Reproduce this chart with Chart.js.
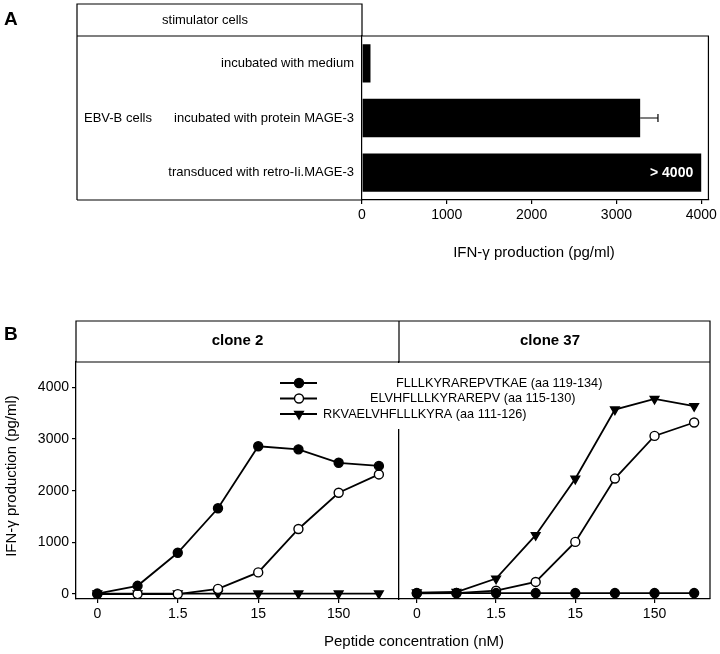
<!DOCTYPE html>
<html>
<head>
<meta charset="utf-8">
<script src="https://cdn.jsdelivr.net/npm/chart.js@4.4.1/dist/chart.umd.min.js"></script>
<style>
  body { margin: 0; background: #fff; }
  #wrap { position: relative; width: 720px; height: 654px; }
  #wrap canvas { position: absolute; left: 0; top: 0; }
</style>
</head>
<body>
<div id="wrap">
  <canvas id="chartA" width="720" height="654"></canvas>
  <canvas id="chartB1" width="720" height="654"></canvas>
  <canvas id="chartB2" width="720" height="654"></canvas>
</div>
<script>
// Panel A - IFN-gamma by stimulator cells
const stimulators = ['incubated with medium', 'incubated with protein MAGE-3', 'transduced with retro-Ii.MAGE-3'];
const ifnA = [100, 3280, 4000];
const ifnAErr = [0, 210, 0];
const ifnANotes = ['', '', '> 4000'];
const ticksA = [0, 1000, 2000, 3000, 4000];

// Panel B - peptide titration, two clones
const concLabels = ['0', '', '1.5', '', '15', '', '150', ''];
const concTicks = [0, 2, 4, 6];
const peptides = ['FLLLKYRAREPVTKAE (aa 119-134)', 'ELVHFLLLKYRAREPV (aa 115-130)', 'RKVAELVHFLLLKYRA (aa 111-126)'];
const clone2FLLL = [10, 160, 800, 1660, 2860, 2800, 2540, 2480];
const clone2ELVH = [0, 0, 0, 100, 420, 1260, 1960, 2315];
const clone2RKVA = [10, 10, 10, 10, 10, 10, 10, 10];
const clone37FLLL = [20, 20, 20, 20, 20, 20, 20, 20];
const clone37ELVH = [15, 20, 65, 235, 1010, 2235, 3060, 3320];
const clone37RKVA = [30, 40, 300, 1140, 2230, 3570, 3775, 3635];
const ticksB = [0, 1000, 2000, 3000, 4000];

Chart.defaults.font.family = "'Liberation Sans', Arial, Helvetica, sans-serif";
Chart.defaults.color = '#000';

const FONT = "'Liberation Sans', Arial, Helvetica, sans-serif";

function text(ctx, str, x, y, size, align, weight) {
    ctx.font = (weight || 'normal') + ' ' + size + 'px ' + FONT;
    ctx.textAlign = align || 'center';
    ctx.textBaseline = 'middle';
    ctx.fillText(str, x, y);
}

// ---------- Panel A ----------
const panelAPlugin = {
    id: 'panelA',
    afterDraw(chart) {
        const ctx = chart.ctx, a = chart.chartArea;
        const xs = chart.scales.x, ys = chart.scales.y;
        ctx.save();
        ctx.strokeStyle = '#000';
        ctx.lineWidth = 1.2;
        ctx.beginPath();
        // table box on the left
        ctx.moveTo(77, a.bottom); ctx.lineTo(77, 4); ctx.lineTo(a.left, 4); ctx.lineTo(a.left, a.top);
        ctx.moveTo(77, a.bottom); ctx.lineTo(a.left, a.bottom);
        // header line + plot frame
        ctx.moveTo(77, a.top); ctx.lineTo(a.right, a.top); ctx.lineTo(a.right, a.bottom);
        ctx.stroke();

        // error bars
        ifnA.forEach((v, i) => {
            if (!ifnAErr[i]) return;
            const yc = ys.getPixelForValue(i);
            const x0 = xs.getPixelForValue(v), x1 = xs.getPixelForValue(v + ifnAErr[i]);
            ctx.beginPath();
            ctx.moveTo(x0, yc); ctx.lineTo(x1, yc);
            ctx.moveTo(x1, yc - 4); ctx.lineTo(x1, yc + 4);
            ctx.stroke();
        });

        // notes inside bars
        ctx.fillStyle = '#fff';
        ifnANotes.forEach((n, i) => {
            if (!n) return;
            text(ctx, n, xs.getPixelForValue(ifnA[i]) - 8, ys.getPixelForValue(i), 14, 'right', 'bold');
        });

        ctx.fillStyle = '#000';
        text(ctx, 'A', 4, 20, 19, 'left', 'bold');
        text(ctx, 'stimulator cells', 205, 20, 13);
        text(ctx, 'EBV-B cells', 84, ys.getPixelForValue(1), 13, 'left');
        text(ctx, 'IFN-\u03b3 production (pg/ml)', 534, 253, 15);
        ctx.restore();
    }
};

new Chart(document.getElementById('chartA'), {
    type: 'bar',
    data: {
        labels: stimulators,
        datasets: [{
            data: ifnA,
            backgroundColor: '#000',
            borderWidth: 0,
            barPercentage: 0.7,
            categoryPercentage: 1.0
        }]
    },
    options: {
        indexAxis: 'y',
        responsive: false,
        animation: false,
        layout: { padding: { left: 0, top: 36, right: 10, bottom: 424 } },
        plugins: { legend: { display: false }, tooltip: { enabled: false } },
        scales: {
            x: {
                type: 'linear',
                min: 0,
                max: 4085,
                afterBuildTicks: (s) => { s.ticks = ticksA.map(v => ({ value: v })); },
                afterFit: (s) => { s.height = 30; },
                ticks: { font: { size: 14 }, padding: 3, color: '#000', callback: (v) => String(v) },
                grid: { display: true, drawOnChartArea: false, drawTicks: true, tickLength: 4, color: '#000', lineWidth: 1.2 },
                border: { color: '#000', width: 1.2 }
            },
            y: {
                afterFit: (s) => { s.width = 362; },
                ticks: { font: { size: 13 }, padding: 8, color: '#000' },
                grid: { display: false, drawTicks: false, tickLength: 0 },
                border: { color: '#000', width: 1.2 }
            }
        }
    },
    plugins: [panelAPlugin]
});

// ---------- Panel B ----------
const styles = [
    { pointStyle: 'circle', pointRadius: 4.5, pointBackgroundColor: '#000', pointRotation: 0 },
    { pointStyle: 'circle', pointRadius: 4.5, pointBackgroundColor: '#fff', pointRotation: 0 },
    { pointStyle: 'triangle', pointRadius: 5, pointBackgroundColor: '#000', pointRotation: 180 }
];

function makeDatasets(series) {
    return series.map((vals, k) => Object.assign({
        label: peptides[k],
        data: vals.map((v, i) => ({ x: i, y: v })),
        borderColor: '#000',
        borderWidth: 1.8,
        pointBorderColor: '#000',
        pointBorderWidth: 1.4,
        tension: 0
    }, styles[k]));
}

function xScale(min, max) {
    return {
        type: 'linear',
        min: min,
        max: max,
        afterBuildTicks: (s) => { s.ticks = concTicks.map(v => ({ value: v })); },
        afterFit: (s) => { s.height = 30; },
        ticks: { font: { size: 14 }, padding: 3, color: '#000', callback: (v) => concLabels[v] },
        grid: { display: true, drawOnChartArea: false, drawTicks: true, tickLength: 4, color: '#000', lineWidth: 1.2 },
        border: { color: '#000', width: 1.3 }
    };
}

const panelBPlugin = {
    id: 'panelB',
    afterDraw(chart) {
        const ctx = chart.ctx, a = chart.chartArea;
        ctx.save();
        ctx.strokeStyle = '#000';
        ctx.lineWidth = 1.2;
        ctx.beginPath();
        ctx.moveTo(a.left, a.top); ctx.lineTo(a.left, 321); ctx.lineTo(710, 321); ctx.lineTo(710, a.bottom);
        ctx.moveTo(a.left, a.top); ctx.lineTo(710, a.top);
        ctx.moveTo(a.right, 321); ctx.lineTo(a.right, a.top);
        ctx.stroke();

        ctx.fillStyle = '#000';
        text(ctx, 'B', 4, 335, 19, 'left', 'bold');
        text(ctx, 'clone 2', (a.left + a.right) / 2, 341, 15, 'center', 'bold');
        text(ctx, 'clone 37', 550, 341, 15, 'center', 'bold');
        text(ctx, 'Peptide concentration (nM)', 414, 642, 15);
        ctx.translate(12, 476);
        ctx.rotate(-Math.PI / 2);
        text(ctx, 'IFN-\u03b3 production (pg/ml)', 0, 0, 15);
        ctx.restore();
    }
};

const legendPlugin = {
    id: 'peptideLegend',
    afterDraw(chart) {
        const ctx = chart.ctx;
        const rowsY = [383, 398.5, 414];
        const textX = [396, 370, 323];
        ctx.save();
        // the legend hides the top of the clone divider
        ctx.fillStyle = '#fff';
        ctx.fillRect(394, 363, 10, 66);
        chart.data.datasets.forEach((ds, k) => {
            const y = rowsY[k];
            ctx.strokeStyle = '#000';
            ctx.lineWidth = 1.8;
            ctx.beginPath();
            ctx.moveTo(280, y); ctx.lineTo(317, y);
            ctx.stroke();
            ctx.fillStyle = ds.pointBackgroundColor;
            ctx.lineWidth = 1.4;
            ctx.beginPath();
            if (ds.pointStyle === 'triangle') {
                const r = ds.pointRadius;
                ctx.moveTo(299, y + r);
                ctx.lineTo(299 - r * 0.866, y - r / 2);
                ctx.lineTo(299 + r * 0.866, y - r / 2);
                ctx.closePath();
            } else {
                ctx.arc(299, y, ds.pointRadius, 0, Math.PI * 2);
            }
            ctx.fill();
            ctx.stroke();
            ctx.fillStyle = '#000';
            text(ctx, ds.label, textX[k], y, 12.7, 'left');
        });
        ctx.restore();
    }
};

new Chart(document.getElementById('chartB1'), {
    type: 'line',
    data: { datasets: makeDatasets([clone2FLLL, clone2ELVH, clone2RKVA]) },
    options: {
        responsive: false,
        animation: false,
        layout: { padding: { left: 0, top: 362, right: 321, bottom: 25 } },
        plugins: { legend: { display: false }, tooltip: { enabled: false } },
        scales: {
            x: xScale(-0.53, 7.5),
            y: {
                min: -95,
                max: 4490,
                afterBuildTicks: (s) => { s.ticks = ticksB.map(v => ({ value: v })); },
                afterFit: (s) => { s.width = 76; },
                ticks: { font: { size: 14 }, padding: 3, color: '#000', callback: (v) => String(v) },
                grid: { display: true, drawOnChartArea: false, drawTicks: true, tickLength: 4, color: '#000', lineWidth: 1.2 },
                border: { color: '#000', width: 1.3 }
            }
        }
    },
    plugins: [panelBPlugin]
});

new Chart(document.getElementById('chartB2'), {
    type: 'line',
    data: { datasets: makeDatasets([clone37FLLL, clone37ELVH, clone37RKVA]) },
    options: {
        responsive: false,
        animation: false,
        layout: { padding: { left: 389, top: 362, right: 10, bottom: 25 } },
        plugins: { legend: { display: false }, tooltip: { enabled: false } },
        scales: {
            x: xScale(-0.45, 7.4),
            y: {
                min: -95,
                max: 4490,
                afterBuildTicks: (s) => { s.ticks = ticksB.map(v => ({ value: v })); },
                afterFit: (s) => { s.width = 10; },
                ticks: { display: false },
                grid: { display: false, drawTicks: false, tickLength: 0 },
                border: { color: '#000', width: 1.3 }
            }
        }
    },
    plugins: [legendPlugin]
});
</script>
</body>
</html>
